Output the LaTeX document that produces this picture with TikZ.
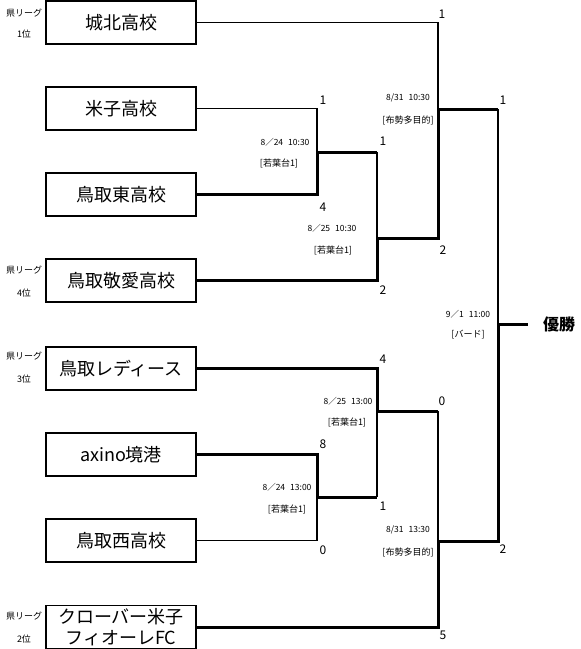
\documentclass[tikz,border=0pt]{standalone}
\usepackage{fontspec}
\setmainfont{Noto Sans CJK JP}
\begin{document}
\begin{tikzpicture}[x=1pt,y=-1pt,
  team/.style={draw, line width=1.8pt, minimum width=150pt, minimum height=43pt, inner sep=0pt, font=\fontsize{18}{21}\selectfont, align=center},
  thinl/.style={line width=1.5pt, line join=miter},
  thickl/.style={line width=3pt, line join=miter},
  score/.style={font=\fontsize{12}{13}\selectfont, inner sep=0pt},
  datel/.style={font=\fontsize{8.5}{9}\selectfont, inner sep=0pt},
  placel/.style={font=\fontsize{9}{10}\selectfont, inner sep=0pt},
  rank/.style={font=\fontsize{9}{10}\selectfont, inner sep=0pt}]
\useasboundingbox (0,0) rectangle (581,649);
% teams
\node[team] (b1) at (121,22.5) {城北高校};
\node[team] (b2) at (121,108.5) {米子高校};
\node[team] (b3) at (121,194.5) {鳥取東高校};
\node[team] (b4) at (121,280.5) {鳥取敬愛高校};
\node[team] (b5) at (121,368.5) {鳥取レディース};
\node[team] (b6) at (121,454.5) {axino境港};
\node[team] (b7) at (121,540.5) {鳥取西高校};
\node[team] (b8) at (121,627) {クローバー米子\\フィオーレFC};
% ranks
\node[rank] (r1a) at (24,13) {県リーグ};
\node[rank] (r1b) at (24,34) {1位};
\node[rank] (r4a) at (24,270) {県リーグ};
\node[rank] (r4b) at (24,293) {4位};
\node[rank] (r3a) at (24,356) {県リーグ};
\node[rank] (r3b) at (24,379) {3位};
\node[rank] (r2a) at (24,616) {県リーグ};
\node[rank] (r2b) at (24,639) {2位};
% bracket points
\coordinate (m1) at (317,152);
\coordinate (m2) at (377,238);
\coordinate (m3) at (438,109);
\coordinate (m4) at (317,497);
\coordinate (m5) at (377,411);
\coordinate (m6) at (438,541);
\coordinate (f) at (498,324);
\coordinate (champ) at (528,324);
% thin lines
\draw[thinl] (b2.east) -- (m1 |- b2.east) -- (m1);
\draw[thinl] (m2 |- m1) -- (m2);
\draw[thinl] (b1.east) -- (m3 |- b1.east) -- (m3);
\draw[thinl] (f |- m3) -- (f);
\draw[thinl] (b7.east) -- (m4 |- b7.east) -- (m4);
\draw[thinl] (m5 |- m4) -- (m5);
\draw[thinl] (m6 |- m5) -- (m6);
% thick lines
\draw[thickl] (b3.east) -- (m1 |- b3.east) -- (m1) -- (m2 |- m1);
\draw[thickl] (b4.east) -- (m2 |- b4.east) -- (m2) -- (m3 |- m2) -- (m3) -- (f |- m3);
\draw[thickl] (b6.east) -- (m4 |- b6.east) -- (m4) -- (m5 |- m4);
\draw[thickl] (b5.east) -- (m5 |- b5.east) -- (m5) -- (m6 |- m5);
\draw[thickl] (b8.east) -- (m6 |- b8.east) -- (m6) -- (f |- m6) -- (f) -- (champ);
% champion
\node[font=\fontsize{16}{16}\selectfont\bfseries, inner sep=0pt] (win) at (559,324) {優勝};
% scores
\node[score] (s1) at (323,100) {1};
\node[score] (s2) at (323,207) {4};
\node[score] (s3) at (383,141) {1};
\node[score] (s4) at (383,290) {2};
\node[score] (s5) at (442,14) {1};
\node[score] (s6) at (443,250) {2};
\node[score] (s7) at (503,100) {1};
\node[score] (s8) at (503,549) {2};
\node[score] (s9) at (383,359) {4};
\node[score] (s10) at (323,444) {8};
\node[score] (s11) at (383,506) {1};
\node[score] (s12) at (323,550) {0};
\node[score] (s13) at (442,401) {0};
\node[score] (s14) at (443,635) {5};
% dates
\node[datel] (d1a) at (285,142) {8／24\hspace{5pt}10:30};
\node[placel] (d1b) at (279,163) {[若葉台1]};
\node[datel] (d2a) at (332,228) {8／25\hspace{5pt}10:30};
\node[placel] (d2b) at (333,250) {[若葉台1]};
\node[datel] (d3a) at (408,98) {8/31\hspace{5pt}10:30};
\node[placel] (d3b) at (408,120) {[布勢多目的]};
\node[datel] (d4a) at (468,314) {9／1\hspace{5pt}11:00};
\node[placel] (d4b) at (468,335) {[バード]};
\node[datel] (d5a) at (348,401) {8／25\hspace{5pt}13:00};
\node[placel] (d5b) at (347,422) {[若葉台1]};
\node[datel] (d6a) at (287,487) {8／24\hspace{5pt}13:00};
\node[placel] (d6b) at (287,509) {[若葉台1]};
\node[datel] (d7a) at (408,530) {8/31\hspace{5pt}13:30};
\node[placel] (d7b) at (408,552) {[布勢多目的]};
\end{tikzpicture}
\end{document}
